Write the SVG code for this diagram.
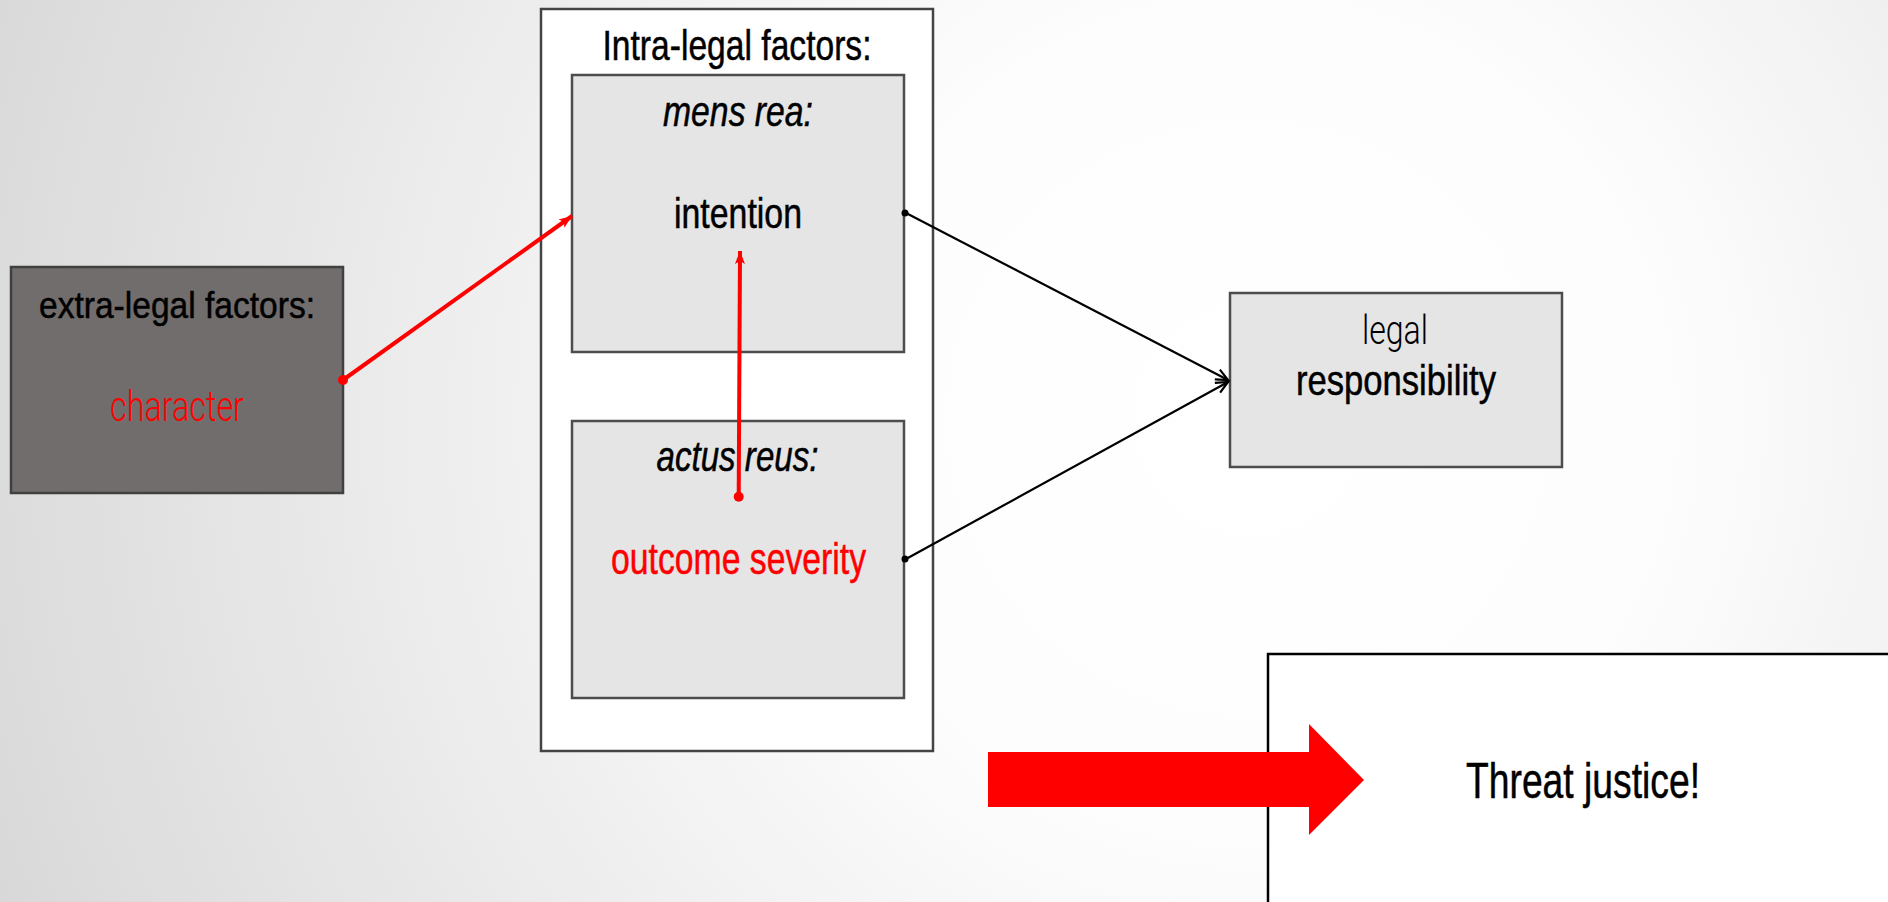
<svg xmlns="http://www.w3.org/2000/svg" width="1888" height="902" viewBox="0 0 1888 902">
<defs>
<radialGradient id="bg" gradientUnits="userSpaceOnUse" cx="1250" cy="420" r="1400">
<stop offset="0" stop-color="#ffffff"/>
<stop offset="0.3" stop-color="#fdfdfd"/>
<stop offset="1" stop-color="#d6d6d6"/>
</radialGradient>
<marker id="redHead" markerUnits="userSpaceOnUse" markerWidth="16" markerHeight="12" viewBox="-14 -6 16 12" refX="0" refY="0" orient="auto">
<path d="M0,0 L-13,-5 L-10,0 L-13,5 Z" fill="#ff0000"/>
</marker>
<marker id="blackHead" markerUnits="userSpaceOnUse" markerWidth="18" markerHeight="14" viewBox="-15 -7 18 14" refX="0" refY="0" orient="auto">
<path d="M-12,-5.5 L0,0 L-12,5.5" fill="none" stroke="#000" stroke-width="2.2"/>
</marker>
</defs>
<style>
.t{font-family:"Liberation Sans Narrow","Liberation Sans",Arial,sans-serif;fill:#000;stroke:#000;stroke-width:0.5;text-anchor:middle}
.light{font-family:Roboto,"Liberation Sans Narrow","Liberation Sans",sans-serif;font-weight:300;stroke-width:0}
.red{fill:#ff0000;stroke:#ff0000}
.grey{fill:#e5e5e5;stroke:#4d4d4d;stroke-width:2.5}
.redline{stroke:#ff0000;stroke-width:4;fill:none;marker-end:url(#redHead)}
.blkline{stroke:#000;stroke-width:2.2;fill:none;marker-end:url(#blackHead)}
</style>
<rect x="0" y="0" width="1888" height="902" fill="url(#bg)"/>

<g id="extra-legal">
<rect x="11" y="267" width="332" height="226" fill="#716d6c" stroke="#404040" stroke-width="2.5"/>
<text class="t" x="177" y="318" font-size="36" textLength="276" lengthAdjust="spacingAndGlyphs">extra-legal factors:</text>
<text class="t light red" x="177" y="421" font-size="42" textLength="134" lengthAdjust="spacingAndGlyphs">character</text>
</g>

<g id="intra-legal">
<rect x="541" y="9" width="392" height="742" fill="#ffffff" stroke="#444444" stroke-width="2.5"/>
<text class="t" x="737" y="60" font-size="42" textLength="269" lengthAdjust="spacingAndGlyphs">Intra-legal factors:</text>
</g>

<g id="mens-rea">
<rect class="grey" x="572" y="75" width="332" height="277"/>
<text class="t" x="738" y="126" font-size="42" font-style="italic" textLength="150" lengthAdjust="spacingAndGlyphs">mens rea:</text>
<text class="t" x="738" y="228" font-size="42" textLength="128" lengthAdjust="spacingAndGlyphs">intention</text>
</g>

<g id="actus-reus">
<rect class="grey" x="572" y="421" width="332" height="277"/>
<text class="t" x="737.5" y="471" font-size="42" font-style="italic" textLength="162" lengthAdjust="spacingAndGlyphs">actus reus:</text>
<text class="t red" x="738.5" y="574" font-size="44" textLength="255" lengthAdjust="spacingAndGlyphs">outcome severity</text>
</g>

<g id="legal-responsibility">
<rect class="grey" x="1230" y="293" width="332" height="174"/>
<text class="t light" x="1395" y="344" font-size="40" textLength="66" lengthAdjust="spacingAndGlyphs">legal</text>
<text class="t" x="1396" y="395" font-size="42" textLength="200" lengthAdjust="spacingAndGlyphs">responsibility</text>
</g>

<g id="threat-justice">
<rect x="1268" y="654" width="640" height="270" fill="#ffffff" stroke="#000" stroke-width="2.5"/>
<polygon points="988,752 1309,752 1309,724 1364,780 1309,835 1309,807 988,807" fill="#ff0000"/>
<text class="t" x="1583" y="798" font-size="50" textLength="234" lengthAdjust="spacingAndGlyphs">Threat justice!</text>
</g>

<g id="connectors">
<line class="blkline" x1="906" y1="213" x2="1228" y2="380"/>
<circle cx="905" cy="213" r="3.5" fill="#000"/>
<line class="blkline" x1="906" y1="559" x2="1228" y2="382"/>
<circle cx="905" cy="559" r="3.5" fill="#000"/>
<line class="redline" x1="343" y1="380" x2="572" y2="216"/>
<circle cx="343" cy="380" r="5" fill="#ff0000"/>
<line class="redline" x1="738.7" y1="496.7" x2="740" y2="251"/>
<circle cx="738.7" cy="496.7" r="5" fill="#ff0000"/>
</g>
</svg>
